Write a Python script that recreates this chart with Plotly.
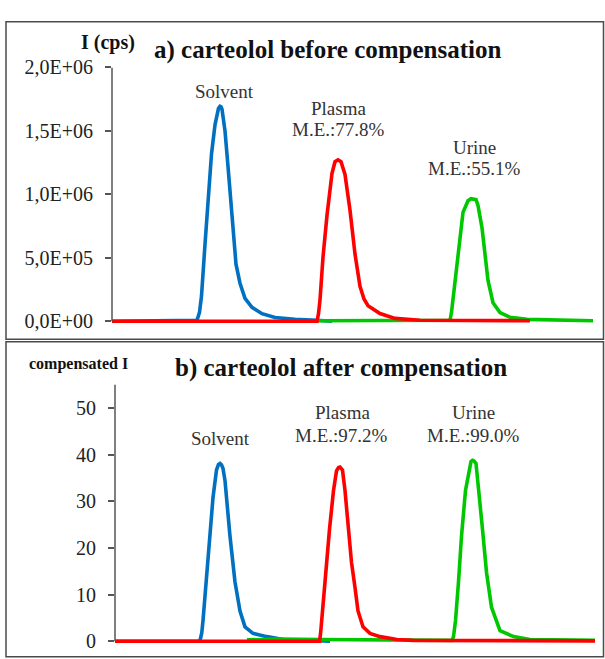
import plotly.graph_objects as go

W, H = 605, 659

# ---------------- data: panel a) before compensation (time, a.u. ; intensity, cps)
t_solv_a = [0, 1.70, 1.75, 1.79, 1.86, 1.93, 1.99, 2.06, 2.10, 2.13, 2.16, 2.18, 2.20, 2.23,
            2.26, 2.32, 2.40, 2.48, 2.56, 2.66, 2.80, 3.00, 3.26, 3.66, 4.10, 4.40]
i_solv_a = [0, 0.008e6, 0.070e6, 0.199e6, 0.605e6, 0.989e6, 1.318e6, 1.548e6, 1.630e6, 1.678e6,
            1.694e6, 1.690e6, 1.670e6, 1.600e6, 1.500e6, 1.220e6, 0.810e6, 0.450e6, 0.300e6,
            0.180e6, 0.110e6, 0.060e6, 0.030e6, 0.015e6, 0.008e6, 0]

t_plas_a = [0, 4.10, 4.13, 4.16, 4.22, 4.30, 4.40, 4.46, 4.52, 4.58, 4.66, 4.76, 4.86, 4.96,
            5.04, 5.12, 5.36, 5.66, 6.16, 8.36]
i_plas_a = [0, 0, 0.060e6, 0.169e6, 0.506e6, 0.835e6, 1.165e6, 1.257e6, 1.272e6, 1.257e6,
            1.157e6, 0.874e6, 0.529e6, 0.276e6, 0.175e6, 0.123e6, 0.061e6, 0.023e6, 0.008e6,
            0.004e6]

t_urin_a = [4.10, 6.76, 6.79, 6.82, 6.90, 6.96, 7.02, 7.12, 7.18, 7.28, 7.32, 7.40, 7.46, 7.52,
            7.62, 7.76, 7.96, 8.30, 9.62]
i_urin_a = [0.004e6, 0.008e6, 0.070e6, 0.169e6, 0.429e6, 0.682e6, 0.858e6, 0.950e6, 0.966e6,
            0.958e6, 0.912e6, 0.736e6, 0.529e6, 0.322e6, 0.146e6, 0.069e6, 0.031e6, 0.015e6,
            0.004e6]

# ---------------- data: panel b) after compensation
t_solv_b = [0, 1.68, 1.71, 1.735, 1.76, 1.83, 1.90, 1.96, 2.03, 2.07, 2.10, 2.13, 2.16, 2.20,
            2.30, 2.40, 2.50, 2.60, 2.76, 3.04, 3.36, 3.90, 4.30]
i_solv_b = [0, 0, 0.6, 1.8, 4.4, 13.5, 22.5, 30.8, 36.7, 37.9, 38.1, 37.8, 37.0, 34.4, 22.5,
            12.7, 6.5, 3.1, 1.7, 1.0, 0.4, 0.1, 0]

t_plas_b = [0, 4.09, 4.11, 4.13, 4.20, 4.29, 4.37, 4.43, 4.47, 4.50, 4.55, 4.60, 4.67, 4.73,
            4.80, 4.86, 4.96, 5.10, 5.30, 5.64, 5.96, 9.60]
i_plas_b = [0, 0, 1.5, 4.4, 12.7, 24.0, 32.3, 36.5, 37.2, 37.3, 36.7, 32.3, 24.0, 16.9, 11.5,
            6.5, 3.1, 1.7, 1.0, 0.4, 0.2, 0.1]

t_urin_b = [2.64, 3.30, 4.10, 5.70, 6.74, 6.77, 6.79, 6.81, 6.87, 6.93, 7.01, 7.09, 7.12, 7.15,
            7.18, 7.22, 7.28, 7.35, 7.43, 7.53, 7.70, 7.97, 8.30, 9.60]
i_urin_b = [0.3, 0.5, 0.4, 0.2, 0.2, 1.0, 2.2, 4.4, 12.7, 22.5, 32.3, 37.7, 38.5, 38.75, 38.6,
            38.1, 32.3, 24.0, 14.8, 7.3, 2.3, 1.0, 0.4, 0.2]

ytick_a_vals = [0, 0.5e6, 1.0e6, 1.5e6, 2.0e6]
ytick_a_text = ["0,0E+00", "5,0E+05", "1,0E+06", "1,5E+06", "2,0E+06"]
ytick_b_vals = [0, 10, 20, 30, 40, 50]
ytick_b_text = ["0", "10", "20", "30", "40", "50"]

BLUE, RED, GREEN = "#0070c0", "#ff0000", "#00c800"
FONT = "Liberation Serif"
AXC = "#555555"


def px(x):
    return x / W


def py(y):
    return 1 - y / H


fig = go.Figure()

line_kw = dict(width=3.6, shape="linear")
for t, v, c in [(t_solv_a, i_solv_a, BLUE), (t_urin_a, i_urin_a, GREEN), (t_plas_a, i_plas_a, RED)]:
    fig.add_trace(go.Scatter(x=t, y=v, mode="lines", line=dict(color=c, **line_kw),
                             xaxis="x", yaxis="y", showlegend=False, hoverinfo="skip"))
for t, v, c in [(t_solv_b, i_solv_b, BLUE), (t_urin_b, i_urin_b, GREEN), (t_plas_b, i_plas_b, RED)]:
    fig.add_trace(go.Scatter(x=t, y=v, mode="lines", line=dict(color=c, **line_kw),
                             xaxis="x2", yaxis="y2", showlegend=False, hoverinfo="skip"))

tickfont = dict(family=FONT, size=20, color="#222222")
yax_common = dict(showgrid=False, zeroline=False, showline=False, ticks="outside",
                  ticklen=6, tickwidth=1.5, tickcolor=AXC, tickfont=tickfont,
                  ticklabelstandoff=8, fixedrange=True)

fig.update_layout(
    width=W, height=H, margin=dict(l=0, r=0, t=0, b=0),
    paper_bgcolor="white", plot_bgcolor="rgba(0,0,0,0)",
    xaxis=dict(domain=[px(112), px(602)], range=[0, 9.8], visible=False, anchor="y"),
    yaxis=dict(domain=[py(322.9), py(58)], range=[-0.03e6, 2.0e6], anchor="x",
               tickvals=ytick_a_vals, ticktext=ytick_a_text, **yax_common),
    xaxis2=dict(domain=[px(115), px(605)], range=[0, 9.8], visible=False, anchor="y2"),
    yaxis2=dict(domain=[py(651.84), py(384)], range=[-0.8, 55], anchor="x2",
                tickvals=ytick_b_vals, ticktext=ytick_b_text, **yax_common),
)

shapes = [
    # panel frames
    dict(type="rect", xref="paper", yref="paper", x0=px(6), x1=px(603.5), y0=py(337.5), y1=py(11),
         line=dict(color="#4a4a4a", width=1.5)),
    dict(type="rect", xref="paper", yref="paper", x0=px(6), x1=px(603.5), y0=py(664), y1=py(340),
         line=dict(color="#4a4a4a", width=1.5)),
    # y axis lines
    dict(type="line", xref="paper", yref="y", x0=px(112), x1=px(112), y0=0, y1=2.0e6,
         line=dict(color=AXC, width=1.5)),
    dict(type="line", xref="paper", yref="y2", x0=px(115), x1=px(115), y0=0, y1=55,
         line=dict(color=AXC, width=1.5)),
]
fig.update_layout(shapes=shapes)

TXT = "#333333"
ann = []


def add(text, x, y, size, bold=False, color=TXT, xanchor="center"):
    ann.append(dict(text=("<b>%s</b>" % text) if bold else text, x=px(x), y=py(y),
                    xref="paper", yref="paper", showarrow=False, xanchor=xanchor,
                    yanchor="middle", font=dict(family=FONT, size=size, color=color)))


add("I (cps)", 79, 32, 20, bold=True, color="#111111", xanchor="left")
add("a) carteolol before compensation", 152, 40, 25, bold=True, color="#111111", xanchor="left")
add("compensated I", 27, 363, 16, bold=True, color="#111111", xanchor="left")
add("b) carteolol after compensation", 173, 367, 25, bold=True, color="#111111", xanchor="left")

add("Solvent", 224, 83, 19)
add("Plasma", 338, 100, 19)
add("M.E.:77.8%", 338, 122, 19)
add("Urine", 474, 140, 19)
add("M.E.:55.1%", 474, 162, 19)

add("Solvent", 220, 440, 19)
add("Plasma", 342, 413, 19)
add("M.E.:97.2%", 341, 436, 19)
add("Urine", 473, 413, 19)
add("M.E.:99.0%", 473, 436, 19)

fig.update_layout(annotations=ann)

fig.write_html("out.html")
